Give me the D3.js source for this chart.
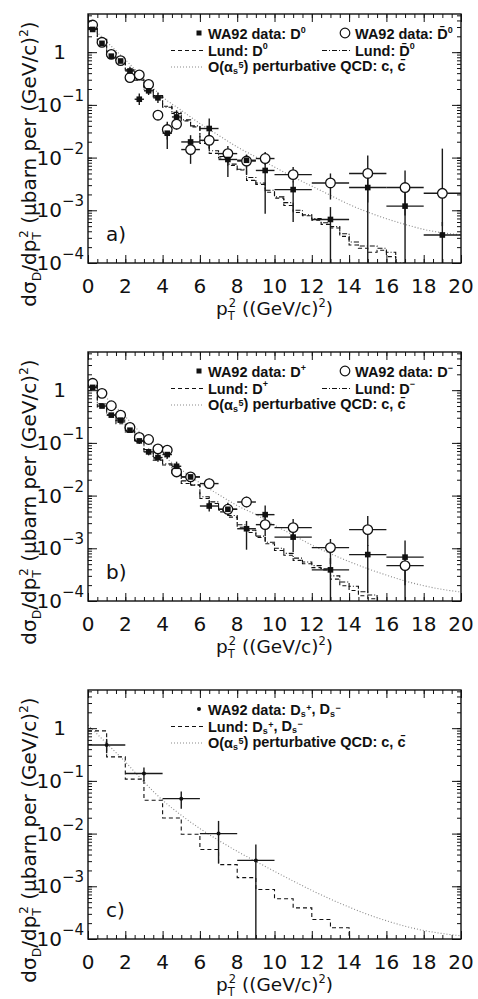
<!DOCTYPE html>
<html><head><meta charset="utf-8">
<script src="https://cdn.jsdelivr.net/npm/d3@7"></script>
<style>body{margin:0;background:#fff}svg{display:block}</style>
</head><body>
<svg id="c" width="478" height="999"></svg>
<script>
// ---------------- data ----------------
const ptCentersA = [0.25,0.75,1.25,1.75,2.25,2.75,3.25,3.75,4.25,4.75,5.5,6.5,7.5,8.5,9.5,11,13,15,17,19];
const ptHalfA    = [0.25,0.25,0.25,0.25,0.25,0.25,0.25,0.25,0.25,0.25,0.5,0.5,0.5,0.5,0.5,1,1,1,1,1];
const ptCentersB = [0.25,0.75,1.25,1.75,2.25,2.75,3.25,3.75,4.25,4.75,5.5,6.5,7.5,8.5,9.5,11,13,15,17];
const ptHalfB    = [0.25,0.25,0.25,0.25,0.25,0.25,0.25,0.25,0.25,0.25,0.5,0.5,0.5,0.5,0.5,1,1,1,1];
const ptCentersC = [1,3,5,7,9];
const ptHalfC    = [1,1,1,1,1];

// panel a : D0 (filled) and D0bar (open)
const d0Val  = [2.7,1.47,0.84,0.68,0.44,0.128,0.185,0.136,0.029,0.059,0.0198,0.0356,0.0092,0.0089,0.0057,0.00247,0.00067,0.0027,0.0012,0.00034];
const d0Lo   = [2.5,1.36,0.78,0.63,0.37,0.099,0.154,0.108,0.0146,0.043,0.0127,0.0214,0.0043,0.0047,0.00086,0.0006,0.00001,0.00001,0.00001,0.00001];
const d0Hi   = [2.9,1.6,0.9,0.73,0.53,0.165,0.222,0.171,0.044,0.079,0.0266,0.055,0.0129,0.0111,0.0088,0.0035,0.00115,0.0045,0.0022,0.0006];
const d0bVal = [3.27,1.54,0.91,0.69,0.33,0.37,0.244,0.0637,0.034,0.043,0.0142,0.0213,0.0119,0.0086,0.0096,0.00475,0.0033,0.005,0.0027,0.0021];
const d0bLo  = [3.05,1.44,0.85,0.64,0.29,0.33,0.217,0.053,0.022,0.034,0.0076,0.015,0.0085,0.0065,0.0072,0.0034,0.0016,0.0014,0.0008,0.0005];
const d0bHi  = [3.5,1.65,0.97,0.74,0.37,0.41,0.274,0.077,0.048,0.054,0.0215,0.03,0.0166,0.0114,0.0127,0.0066,0.005,0.011,0.0057,0.0148];

// panel b : D+ (filled) and D- (open)
const dpVal = [1.13,0.50,0.336,0.27,0.174,0.109,0.0675,0.0527,0.060,0.036,0.0226,0.00634,0.0055,0.00235,0.00435,0.00163,0.00039,0.00076,0.00068];
const dpLo  = [1.05,0.46,0.31,0.25,0.155,0.095,0.058,0.044,0.05,0.03,0.019,0.005,0.0042,0.00094,0.0029,0.00085,0.00001,0.00014,0.00001];
const dpHi  = [1.22,0.545,0.365,0.295,0.195,0.125,0.078,0.062,0.072,0.044,0.027,0.008,0.0073,0.0033,0.0065,0.0024,0.00065,0.00115,0.0014];
const dmVal = [1.35,0.87,0.506,0.336,0.196,0.127,0.116,0.077,0.0726,0.0281,0.0226,0.0169,0.0055,0.00755,0.00281,0.00247,0.00103,0.00226,0.00047];
const dmLo  = [1.26,0.81,0.47,0.31,0.18,0.115,0.105,0.069,0.065,0.023,0.02,0.0134,0.0043,0.006,0.0017,0.00163,0.0005,0.0011,0.0002];
const dmHi  = [1.45,0.93,0.545,0.365,0.215,0.14,0.128,0.086,0.081,0.035,0.0256,0.021,0.007,0.0095,0.0044,0.0036,0.0015,0.0041,0.00068];

// panel c : Ds+, Ds-
const dsVal = [0.48,0.138,0.046,0.010,0.0031];
const dsLo  = [0.335,0.10,0.0297,0.0027,0.00001];
const dsHi  = [0.626,0.18,0.063,0.0174,0.0062];

// Lund histograms
const lundEdgesHalf = [0,0.5,1,1.5,2,2.5,3,3.5,4,4.5,5,5.5,6,6.5,7,7.5,8,8.5,9,9.5,10,10.5,11,11.5,12,12.5,13,13.5,14,14.5,15,15.5,16,16.5,17,17.5,18,18.5,19,19.5,20];
const lundEdgesOne  = [0,1,2,3,4,5,6,7,8,9,10,11,12,13,14,15,16,17,18,19,20];
const lundD0  = [2.83,1.75,0.95,0.73,0.457,0.295,0.214,0.142,0.094,0.0686,0.0497,0.0382,0.0186,0.012,0.0098,0.0071,0.0058,0.0037,0.0031,0.0022,0.0017,0.00123,0.00091,0.00079,0.00065,0.00054,0.00046,0.00032,0.00022,0.00019,0.00016,0.000174,0.000132,0.00008];
const lundD0b = [2.9,1.7,0.98,0.7,0.47,0.3,0.2,0.15,0.09,0.072,0.052,0.04,0.021,0.0135,0.0105,0.0075,0.006,0.0042,0.0033,0.0024,0.0018,0.0014,0.001,0.00082,0.0007,0.00058,0.00049,0.00036,0.00025,0.00021,0.00021,0.00019,0.00016,0.0001,0.00009];
const lundDp  = [1.25,0.48,0.34,0.23,0.162,0.105,0.068,0.047,0.038,0.0245,0.017,0.0158,0.0088,0.0071,0.0049,0.0039,0.0025,0.002,0.0016,0.00122,0.00091,0.00074,0.00059,0.00051,0.00043,0.00039,0.00026,0.000195,0.000158,0.000126,0.00011,0.00008];
const lundDm  = [1.3,0.55,0.36,0.25,0.17,0.11,0.075,0.05,0.04,0.027,0.019,0.016,0.0095,0.0076,0.0053,0.0042,0.0028,0.0022,0.0017,0.0013,0.001,0.0008,0.00065,0.00055,0.00047,0.00041,0.0003,0.00023,0.00019,0.00015,0.00013,0.00009];
const lundDs  = [0.89,0.286,0.108,0.043,0.0198,0.0097,0.005,0.00258,0.00146,0.00087,0.00058,0.00039,0.000235,0.000163];

// O(alpha_s^3) QCD curves
const qcdX = [0,1,2,3,4,5,6,7,8,9,10,11,12,13,14,15,16,17,18,19,20];
const qcdA = [3.55,1.58,0.72,0.316,0.141,0.079,0.0443,0.0265,0.0159,0.01026,0.00662,0.00428,0.00288,0.00192,0.00129,0.000925,0.000692,0.00054,0.000434,0.000375,0.000344];
const qcdB = [1.58,0.71,0.316,0.132,0.059,0.031,0.0174,0.0105,0.00646,0.00437,0.00275,0.00178,0.00115,0.00079,0.00056,0.00041,0.00031,0.00024,0.000195,0.000166,0.000148];
const qcdC = [1.15,0.513,0.23,0.0957,0.043,0.0223,0.01245,0.00746,0.0046,0.00297,0.00192,0.00126,0.000836,0.000571,0.000403,0.000292,0.000222,0.000175,0.000145,0.000127,0.000115];

// axis tick labels
const xTickValues = [0,2,4,6,8,10,12,14,16,18,20];
const xTickLabels = ["0","2","4","6","8","10","12","14","16","18","20"];
const yTickValues = [1,0.1,0.01,0.001,0.0001];
const yTickExp    = [null,"\u22121","\u22122","\u22123","\u22124"];
const panelTags   = ["a)","b)","c)"];

// ---------------- drawing ----------------
const svg = d3.select("#c");
const X0 = 88, X1 = 461, PT = 14, PB = 263, STEP = 338;
const x = d3.scaleLinear().domain([0,20]).range([X0,X1]);
const FONT = "'DejaVu Sans', sans-serif";
const LFONT = "'Liberation Sans', Arial, sans-serif";
const defs = svg.append("defs");

function rich(sel, segs, size, sh){
  const k = sh==null?1:sh;
  segs.forEach(s=>{
    const t = sel.append("tspan").text(s.t);
    if (s.k==="sub"){ t.attr("font-size", size*0.62).attr("dy", size*0.25*k); }
    else if (s.k==="sup"){ t.attr("font-size", size*0.62).attr("dy", -size*0.42*k); }
    else if (s.k==="sub2sup"){ t.attr("font-size", size*0.62).attr("dy", -size*0.67*k); }
    if (s.dx!=null) t.attr("dx", s.dx);
    if (s.back!=null) t.attr("dy", s.back*k);
  });
}

function drawPanel(idx, cfg){
  const off = idx*STEP;
  const y = d3.scaleLog().domain([1e-4,5.3]).range([PB+off, PT+off]);
  const g = svg.append("g");
  const cid = "clip"+idx;
  defs.append("clipPath").attr("id",cid).append("rect")
    .attr("x",X0).attr("y",PT+off).attr("width",X1-X0).attr("height",PB-PT);
  const plot = g.append("g").attr("clip-path",`url(#${cid})`);

  const line = d3.line().x(d=>x(d[0])).y(d=>y(d[1])).curve(d3.curveMonotoneX);
  plot.append("path").attr("d", line(qcdX.map((v,i)=>[v,cfg.qcd[i]])))
    .attr("fill","none").attr("stroke","#8a8a8a").attr("stroke-width",1.1).attr("stroke-dasharray","1,2");

  cfg.lund.forEach(L=>{
    let p = `M${x(L.edges[0])},${y(L.vals[0])}`;
    L.vals.forEach((v,i)=>{
      if (i>0) p += `V${y(v)}`;
      p += `H${x(L.edges[i+1])}`;
    });
    p += `V${PB+off+5}`;
    plot.append("path").attr("d",p).attr("fill","none").attr("stroke","#111")
      .attr("stroke-width",1.1).attr("stroke-dasharray",L.dash);
  });

  cfg.series.forEach(S=>{
    S.c.forEach((c,i)=>{
      plot.append("line").attr("x1",x(c-S.h[i])).attr("x2",x(c+S.h[i]))
        .attr("y1",y(S.v[i])).attr("y2",y(S.v[i])).attr("stroke","#1a1a1a").attr("stroke-width",1.4);
      plot.append("line").attr("x1",x(c)).attr("x2",x(c))
        .attr("y1",y(S.hi[i])).attr("y2",y(Math.max(S.lo[i],1e-5))).attr("stroke","#1a1a1a").attr("stroke-width",1.4);
    });
  });
  cfg.series.filter(S=>S.m==="circle").forEach(S=>{
    S.c.forEach((c,i)=>plot.append("circle").attr("cx",x(c)).attr("cy",y(S.v[i])).attr("r",4.8)
      .attr("fill","#fff").attr("stroke","#111").attr("stroke-width",1.3));
  });
  cfg.series.filter(S=>S.m==="square").forEach(S=>{
    S.c.forEach((c,i)=>plot.append("rect").attr("x",x(c)-2.8).attr("y",y(S.v[i])-2.8)
      .attr("width",5.6).attr("height",5.6).attr("fill","#111"));
  });
  cfg.series.filter(S=>S.m==="dot").forEach(S=>{
    S.c.forEach((c,i)=>plot.append("circle").attr("cx",x(c)).attr("cy",y(S.v[i])).attr("r",2).attr("fill","#111"));
  });

  const xMinor = d3.range(0,20.01,0.5);
  const mk = (gen)=>{ const a = g.append("g"); a.call(gen); a.select(".domain").remove();
    a.selectAll("line").attr("stroke","#111").attr("stroke-width",1); return a; };
  mk(d3.axisBottom(x).tickValues(xMinor).tickSize(-4).tickFormat("")).attr("transform",`translate(0,${PB+off})`);
  mk(d3.axisBottom(x).tickValues(xTickValues).tickSize(-8).tickFormat("")).attr("transform",`translate(0,${PB+off})`);
  mk(d3.axisTop(x).tickValues(xMinor).tickSize(-4).tickFormat("")).attr("transform",`translate(0,${PT+off})`);
  mk(d3.axisTop(x).tickValues(xTickValues).tickSize(-8).tickFormat("")).attr("transform",`translate(0,${PT+off})`);
  const yMinor = [];
  [-4,-3,-2,-1,0].forEach(e=>{ for(let k=1;k<=9;k++){ const v=k*Math.pow(10,e); if(v<=5.3) yMinor.push(v);} });
  mk(d3.axisLeft(y).tickValues(yMinor).tickSize(-4).tickFormat("")).attr("transform",`translate(${X0},0)`);
  mk(d3.axisLeft(y).tickValues(yTickValues).tickSize(-9).tickFormat("")).attr("transform",`translate(${X0},0)`);
  mk(d3.axisRight(y).tickValues(yMinor).tickSize(-4).tickFormat("")).attr("transform",`translate(${X1},0)`);
  mk(d3.axisRight(y).tickValues(yTickValues).tickSize(-9).tickFormat("")).attr("transform",`translate(${X1},0)`);

  g.append("rect").attr("x",X0).attr("y",PT+off).attr("width",X1-X0).attr("height",PB-PT)
    .attr("fill","none").attr("stroke","#111").attr("stroke-width",1.4);

  xTickValues.forEach((v,i)=>{
    g.append("text").attr("x",x(v)).attr("y",PB+off+30).attr("text-anchor","middle")
      .attr("font-family",FONT).attr("font-size",20).attr("fill","#111").text(xTickLabels[i]);
  });
  yTickValues.forEach((v,i)=>{
    const yy = y(v)+7;
    if (yTickExp[i]===null){
      g.append("text").attr("x",66).attr("y",yy).attr("text-anchor","end")
        .attr("font-family",FONT).attr("font-size",20).attr("fill","#111").text("1");
    } else {
      g.append("text").attr("x",62).attr("y",yy).attr("text-anchor","end")
        .attr("font-family",FONT).attr("font-size",20).attr("fill","#111").text("10");
      g.append("text").attr("x",62).attr("y",yy-11).attr("text-anchor","start")
        .attr("font-family",FONT).attr("font-size",15).attr("fill","#111").text(yTickExp[i]);
    }
  });

  const xt = g.append("text").attr("x",(X0+X1)/2).attr("y",PB+off+52).attr("text-anchor","middle")
    .attr("font-family",FONT).attr("font-size",18.5).attr("fill","#111");
  rich(xt,[{t:"p"},{t:"T",k:"sub"},{t:"2",k:"sub2sup",dx:-6},{t:" ((GeV/c)",back:7.7},{t:"2",k:"sup"},{t:")",back:7.7}],18.5);

  const yt = g.append("text").attr("transform",`translate(36,${164+off}) rotate(-90)`).attr("text-anchor","middle")
    .attr("font-family",FONT).attr("font-size",20).attr("fill","#111");
  rich(yt,[{t:"d\u03c3"},{t:"D",k:"sub"},{t:"/dp",back:-5},{t:"T",k:"sub"},{t:"2",k:"sub2sup",dx:-6},{t:" (\u03bcbarn per (GeV/c)",back:8.4},{t:"2",k:"sup"},{t:")",back:8.4}],20);

  g.append("text").attr("x",106).attr("y",PT+off+227).attr("font-family",FONT).attr("font-size",20)
    .attr("fill","#111").text(panelTags[idx]);

  const L = g.append("g");
  const r1 = 39+off, r2 = 55.5+off, r3 = 72+off;
  const txt = (xx,yy,segs,sh)=>{ const t=L.append("text").attr("x",xx).attr("y",yy).attr("font-family",LFONT)
    .attr("font-weight","bold").attr("font-size",14.5).attr("fill","#111"); rich(t,segs,14.5,sh); return t; };
  cfg.legend(L, txt, r1, r2, r3);
  L.append("line").attr("x1",171).attr("x2",203).attr("y1",r3-5).attr("y2",r3-5)
    .attr("stroke","#8a8a8a").attr("stroke-width",1.1).attr("stroke-dasharray","1,2");
  txt(208,r3,[{t:"O(\u03b1"},{t:"s",k:"sub"},{t:"5",k:"sub2sup",dx:0.5},{t:") perturbative QCD: c, c\u0304",back:5.2}],0.6);
}

function legendPair(L, txt, r1, r2, r3, a, b){
  L.append("rect").attr("x",196.5).attr("y",r1-8.5).attr("width",5).attr("height",5).attr("fill","#111");
  txt(208,r1,[{t:"WA92 data: "},...a]);
  L.append("circle").attr("cx",345).attr("cy",r1-6).attr("r",4.8).attr("fill","#fff").attr("stroke","#111").attr("stroke-width",1.2);
  txt(355,r1,[{t:"WA92 data: "},...b]);
  L.append("line").attr("x1",171).attr("x2",203).attr("y1",r2-5).attr("y2",r2-5).attr("stroke","#111").attr("stroke-width",1.1).attr("stroke-dasharray","4,3");
  txt(208,r2,[{t:"Lund: "},...a]);
  L.append("line").attr("x1",322).attr("x2",350).attr("y1",r2-5).attr("y2",r2-5).attr("stroke","#111").attr("stroke-width",1.1).attr("stroke-dasharray","5,2,1,2");
  txt(355,r2,[{t:"Lund: "},...b]);
}

drawPanel(0,{
  qcd:qcdA,
  lund:[{edges:lundEdgesHalf,vals:lundD0,dash:"4,3"},{edges:lundEdgesHalf,vals:lundD0b,dash:"5,2,1,2"}],
  series:[{c:ptCentersA,h:ptHalfA,v:d0bVal,lo:d0bLo,hi:d0bHi,m:"circle"},{c:ptCentersA,h:ptHalfA,v:d0Val,lo:d0Lo,hi:d0Hi,m:"square"}],
  legend:(L,txt,r1,r2,r3)=>legendPair(L,txt,r1,r2,r3,[{t:"D"},{t:"0",k:"sup"}],[{t:"D\u0304"},{t:"0",k:"sup"}])
});
drawPanel(1,{
  qcd:qcdB,
  lund:[{edges:lundEdgesHalf,vals:lundDp,dash:"4,3"},{edges:lundEdgesHalf,vals:lundDm,dash:"5,2,1,2"}],
  series:[{c:ptCentersB,h:ptHalfB,v:dmVal,lo:dmLo,hi:dmHi,m:"circle"},{c:ptCentersB,h:ptHalfB,v:dpVal,lo:dpLo,hi:dpHi,m:"square"}],
  legend:(L,txt,r1,r2,r3)=>legendPair(L,txt,r1,r2,r3,[{t:"D"},{t:"+",k:"sup"}],[{t:"D"},{t:"\u2212",k:"sup"}])
});
drawPanel(2,{
  qcd:qcdC,
  lund:[{edges:lundEdgesOne,vals:lundDs,dash:"4,3"}],
  series:[{c:ptCentersC,h:ptHalfC,v:dsVal,lo:dsLo,hi:dsHi,m:"dot"}],
  legend:(L,txt,r1,r2,r3)=>{
    L.append("circle").attr("cx",199).attr("cy",r1-6).attr("r",2).attr("fill","#111");
    txt(208,r1,[{t:"WA92 data: D"},{t:"s",k:"sub"},{t:"+",k:"sub2sup",dx:0.5},{t:", D",back:5.2},{t:"s",k:"sub"},{t:"\u2212",k:"sub2sup",dx:0.5}],0.6);
    L.append("line").attr("x1",171).attr("x2",203).attr("y1",r2-5).attr("y2",r2-5).attr("stroke","#111").attr("stroke-width",1.1).attr("stroke-dasharray","4,3");
    txt(208,r2,[{t:"Lund: D"},{t:"s",k:"sub"},{t:"+",k:"sub2sup",dx:0.5},{t:", D",back:5.2},{t:"s",k:"sub"},{t:"\u2212",k:"sub2sup",dx:0.5}],0.6);
  }
});
</script>
</body></html>
